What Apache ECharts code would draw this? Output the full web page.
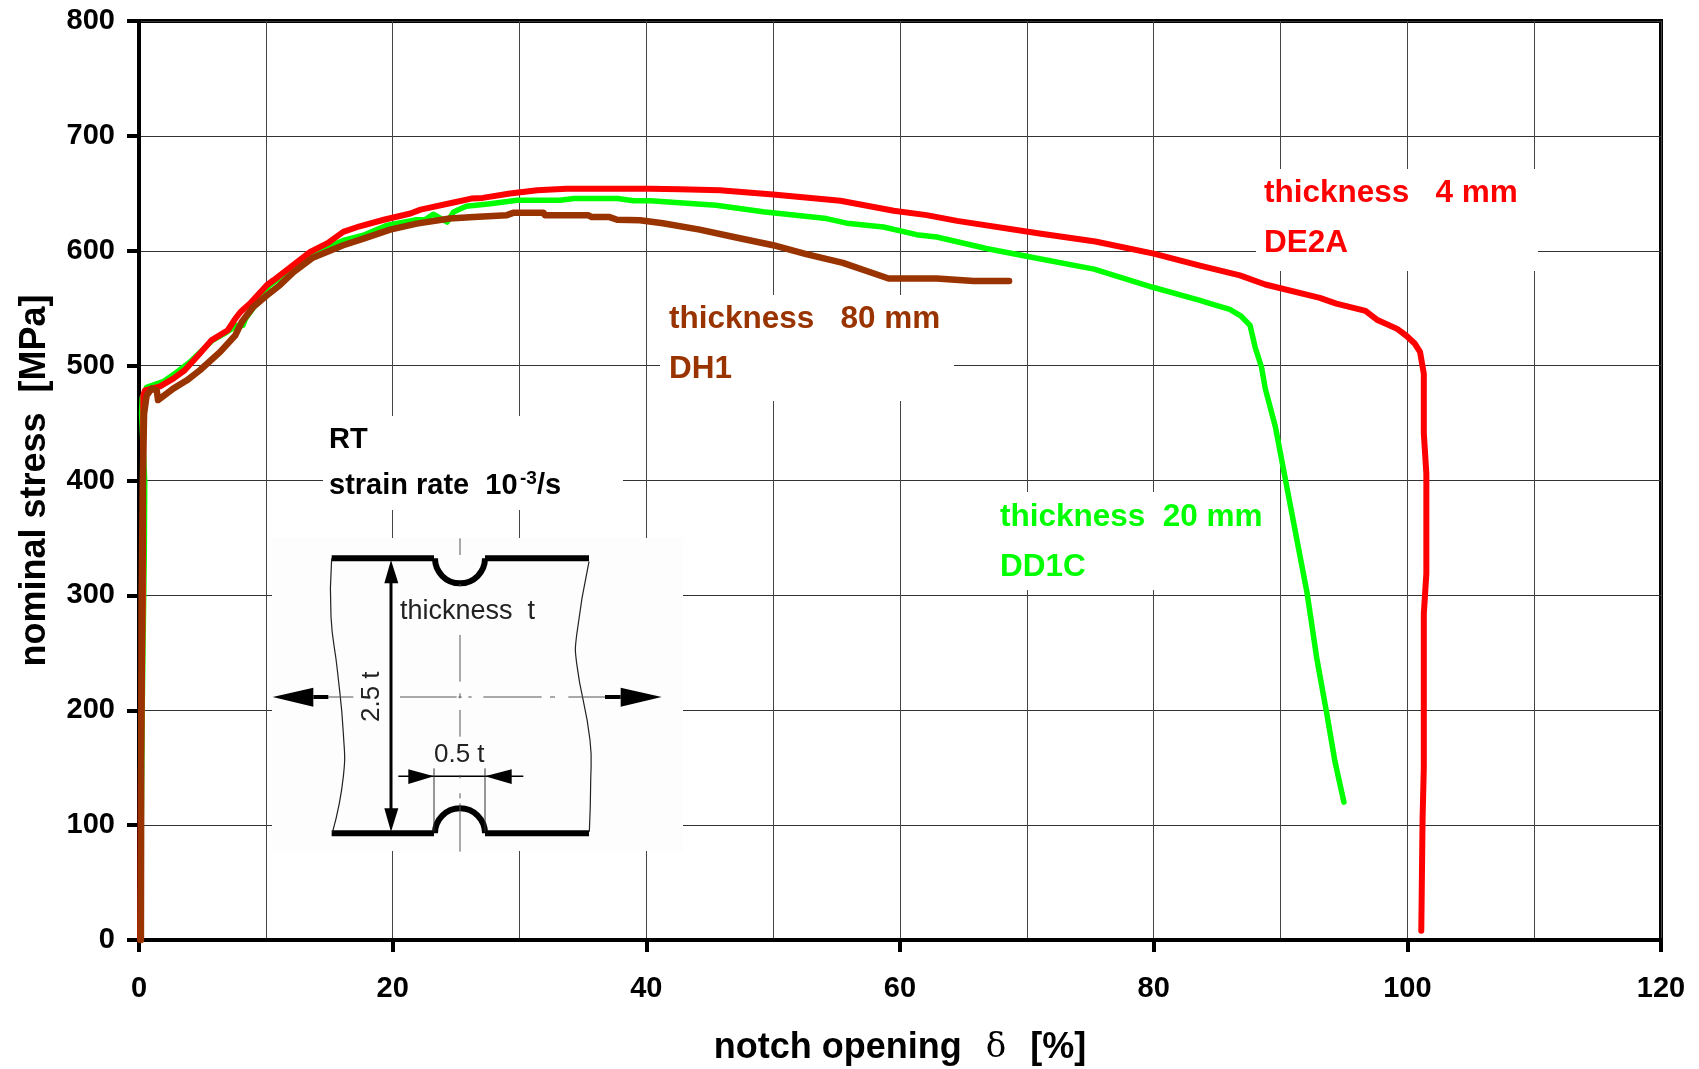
<!DOCTYPE html>
<html>
<head>
<meta charset="utf-8">
<style>html,body{margin:0;padding:0;background:#fff}#c{width:1699px;height:1069px}</style>
<script src="https://cdn.jsdelivr.net/npm/echarts@6/dist/echarts.min.js"></script>
</head>
<body>
<div id="c"></div>
<script>
const xTicks = [0, 20, 40, 60, 80, 100, 120];
const yTicks = [0, 100, 200, 300, 400, 500, 600, 700, 800];

const greenDD1C = [[0.1,0],[0.25,200],[0.42,340],[0.45,400],[0.2,458],[0.25,472],[0.6,481],[1.9,486],[3,494.5],[4,503],[5.8,522],[6.9,529],[7.7,535],[8.2,535],[8.4,541],[9,550],[10.3,570],[12.2,586],[13.7,597.5],[16.1,609],[17.7,613.5],[19.5,622],[21.9,627],[22.55,627],[23.2,631.8],[24.3,625],[24.8,633.8],[25.8,638.7],[27.7,641],[29.8,644],[33.2,644],[34.3,645.5],[37.7,645.5],[39,643.5],[40.3,643.5],[45.5,639.6],[49.2,634],[54.2,628],[55.8,624],[58.7,620.7],[61.3,614],[62.9,612],[66.8,602],[71,593],[75.3,584],[80,568],[83.65,556.8],[84.4,554.2],[85.2,551.5],[86,549],[86.9,543],[87.6,535],[88,516],[88.5,498.8],[88.8,480],[89.6,446.6],[90.35,403],[91.3,348],[92.1,301.8],[92.85,246],[93.65,197],[94.3,155],[95,120]];

const redDE2A = [[0.1,0],[0.15,150],[0.3,300],[0.34,474],[0.47,478.5],[1.66,482],[2.7,488.7],[3.6,496],[4.8,510.5],[5.7,522],[7,530.8],[7.6,541],[8,546.7],[8.75,554],[10.07,570],[10.6,574.3],[13.5,599],[14.9,606.8],[16.1,616.4],[17.4,621.3],[19.3,627],[21.4,632.4],[22.2,635.8],[24.8,642],[26.2,645.4],[27.1,646],[29.25,649.8],[31.4,652.7],[33.7,654],[40.3,654],[42.65,653.5],[45.8,652.7],[50,649],[55.3,643.5],[59.5,634.8],[62.1,631],[64.5,626],[71,615],[75.4,608],[80,597.5],[83.65,587],[86.8,578.6],[88.8,570.6],[93.1,559],[94.4,554],[96.7,547.6],[97.6,540],[99.2,532],[99.95,525.8],[100.6,519],[101,512],[101.3,493],[101.3,481],[101.3,441],[101.5,406],[101.5,319],[101.3,284],[101.3,150.6],[101.2,104],[101.1,8]];

const brownDH1 = [[0.15,0],[0.2,290],[0.3,400],[0.4,458],[0.6,474],[1,480],[1.4,478.5],[1.5,470],[2.7,480],[3.75,487],[4.8,496],[6.4,512],[7.6,526.5],[8.1,538],[9,551],[10.07,561],[11.1,570],[12.2,581.5],[13.7,594],[16.1,604.8],[17.7,610.6],[19.8,618.4],[21.9,623.6],[24.5,628],[26.4,629.4],[29,631],[29.5,633],[31.9,633],[32,631],[35.4,631],[35.7,629.3],[37.1,629.3],[37.7,627],[39.5,626.5],[41.3,624],[44.2,618.4],[46.9,612],[50,604.8],[52.6,597],[55.5,589.4],[57.6,581.5],[59.1,575.8],[62.9,575.8],[65.8,573.6],[68.6,573.6]];

const FONT = '"Liberation Sans", Arial, sans-serif';

// helpers for the annotation layer
function txt(x, baseline, text, size, fill, weight, extra) {
  return Object.assign({
    type: 'text', z: 10, silent: true,
    style: { x: x, y: baseline - size * 0.25, text: text, fill: fill,
      font: (weight || 'bold') + ' ' + size + 'px ' + FONT, verticalAlign: 'middle', align: 'left' }
  }, extra || {});
}
function mask(x0, y0, x1, y1, fill) {
  return { type: 'rect', z: 1, silent: true, shape: { x: x0, y: y0, width: x1 - x0, height: y1 - y0 }, style: { fill: fill || '#fff' } };
}
// inset sketch coordinates were measured on a 3x crop whose origin is (250,520)
const ix = v => 250 + v / 3, iy = v => 520 + v / 3;
const ip = pts => pts.map(p => [ix(p[0]), iy(p[1])]);
function pl(pts, width, color, smooth) {
  return { type: 'polyline', z: 5, silent: true, shape: { points: ip(pts), smooth: smooth || 0 }, style: { stroke: color || '#000', lineWidth: width, fill: null } };
}
function tri(pts) {
  return { type: 'polygon', z: 5, silent: true, shape: { points: ip(pts) }, style: { fill: '#000' } };
}
function arc(cx, cy, r, a0, a1) {
  return { type: 'arc', z: 5, silent: true, shape: { cx: ix(cx), cy: iy(cy), r: r, startAngle: a0, endAngle: a1, clockwise: true }, style: { stroke: '#000', lineWidth: 6, fill: null } };
}
const centreV = [[55,105],[192,200],[345,485],[520,535],[570,650],[765,775],[820,835],[850,995]];
const centreH = [[235,310],[450,620],[625,635],[655,665],[700,875],[900,915],[955,1065]];

const inset = [
  mask(272, 538, 683, 851, '#fdfdfd'),
  pl([[245,115],[552,115]], 6), pl([[705,115],[1017,115]], 6),
  pl([[245,940],[552,940]], 6), pl([[705,940],[1017,940]], 6),
  arc(630, 115, 25, 0, Math.PI), arc(630, 940, 25, Math.PI, Math.PI * 2),
  pl([[245,115],[243,290],[262,450],[280,640],[280,770],[248,935]], 1.2, '#222', 0.5),
  pl([[1017,125],[980,345],[980,430],[1020,660],[1022,790],[1018,935]], 1.2, '#222', 0.5),
  pl([[423,180],[423,870]], 3),
  tri([[423,120],[403,190],[445,190]]), tri([[423,935],[403,865],[445,865]]),
  tri([[68,531],[190,503],[190,560]]), pl([[190,531],[235,531]], 4),
  tri([[1235,531],[1112,503],[1112,560]]), pl([[1065,531],[1112,531]], 4),
  pl([[445,769],[820,769]], 1.5),
  tri([[552,769],[475,748],[475,792]]), tri([[705,769],[785,748],[785,792]]),
  pl([[552,745],[552,935]], 1, '#333'), pl([[705,745],[705,935]], 1, '#333')
].concat(
  centreV.map(s => pl([[630,s[0]],[630,s[1]]], 1, '#555')),
  centreH.map(s => pl([[s[0],531],[s[1],531]], 1, '#555')),
  [
    txt(400, 618, 'thickness  t', 27, '#222', 'normal'),
    txt(434, 761.7, '0.5 t', 26, '#222', 'normal'),
    { type: 'text', z: 10, silent: true, x: 385, y: 722, rotation: Math.PI / 2,
      style: { x: 0, y: 0, text: '2.5 t', fill: '#222', font: 'normal 26px ' + FONT, verticalAlign: 'bottom', align: 'left' } }
  ]
);

const RED = '#ff0000', GREEN = '#00ff00', BROWN = '#993300';
const graphics = [
  mask(1256, 169, 1538, 271), mask(660, 295, 954, 401),
  mask(990, 492, 1270, 590), mask(323, 416, 623, 510),
  txt(1264, 201.5, 'thickness   4 mm', 31.5, RED), txt(1264, 251, 'DE2A', 31.5, RED),
  txt(669, 327, 'thickness   80 mm', 31.5, BROWN), txt(669, 377, 'DH1', 31.5, BROWN),
  txt(1000, 525, 'thickness  20 mm', 31.5, GREEN), txt(1000, 575, 'DD1C', 31.5, GREEN),
  txt(329, 447, 'RT', 29, '#000'),
  txt(329, 493, 'strain rate  10', 29, '#000'),
  txt(520, 484, '-3', 19, '#000'),
  txt(537, 493, '/s', 29, '#000')
].concat(inset);

function line(name, data, color, width) {
  return { name: name, type: 'line', data: data, showSymbol: false, symbol: 'none', smooth: false,
    lineStyle: { color: color, width: width, cap: 'round', join: 'round' }, animation: false, clip: false };
}

const chart = echarts.init(document.getElementById('c'), null, { renderer: 'canvas' });
chart.setOption({
  animation: false,
  backgroundColor: '#fff',
  grid: { left: 139, right: 38, top: 21, bottom: 129, outerBoundsMode: 'none', show: true, borderColor: '#000', borderWidth: 4, backgroundColor: 'transparent' },
  xAxis: {
    type: 'value', min: 0, max: 120, interval: 20,
    name: '{a|notch opening  }{d|δ}{a|  [%]}', nameLocation: 'middle', nameGap: 90,
    nameTextStyle: { rich: {
      a: { fontFamily: FONT, fontWeight: 'bold', fontSize: 36, color: '#000' },
      d: { fontFamily: '"DejaVu Serif", "Liberation Serif", serif', fontWeight: 'normal', fontSize: 34, color: '#000', padding: [0, 4, 0, 4] } } },
    axisLine: { show: true, onZero: false, lineStyle: { color: '#000', width: 4 } },
    axisTick: { show: true, length: 12, lineStyle: { color: '#000', width: 4 } },
    axisLabel: { margin: 34, fontFamily: FONT, fontWeight: 'bold', fontSize: 29, color: '#000', formatter: v => xTicks.includes(v) ? String(v) : '' },
    splitLine: { show: true, lineStyle: { color: '#444', width: 1 } },
    minorTick: { show: false, splitNumber: 2 },
    minorSplitLine: { show: true, lineStyle: { color: '#444', width: 1 } }
  },
  yAxis: {
    type: 'value', min: 0, max: 800, interval: 100,
    name: 'nominal stress  [MPa]', nameLocation: 'middle', nameGap: 86,
    nameTextStyle: { fontFamily: FONT, fontWeight: 'bold', fontSize: 36, color: '#000' },
    axisLine: { show: true, onZero: false, lineStyle: { color: '#000', width: 4 } },
    axisTick: { show: true, length: 12, lineStyle: { color: '#000', width: 4 } },
    axisLabel: { margin: 24, padding: [4, 0, 0, 0], fontFamily: FONT, fontWeight: 'bold', fontSize: 29, color: '#000', formatter: v => yTicks.includes(v) ? String(v) : '' },
    splitLine: { show: true, lineStyle: { color: '#333', width: 1 } }
  },
  graphic: graphics,
  series: [
    line('DD1C', greenDD1C, GREEN, 5.5),
    line('DE2A', redDE2A, RED, 6),
    line('DH1', brownDH1, BROWN, 6.5)
  ]
});
</script>
</body>
</html>
